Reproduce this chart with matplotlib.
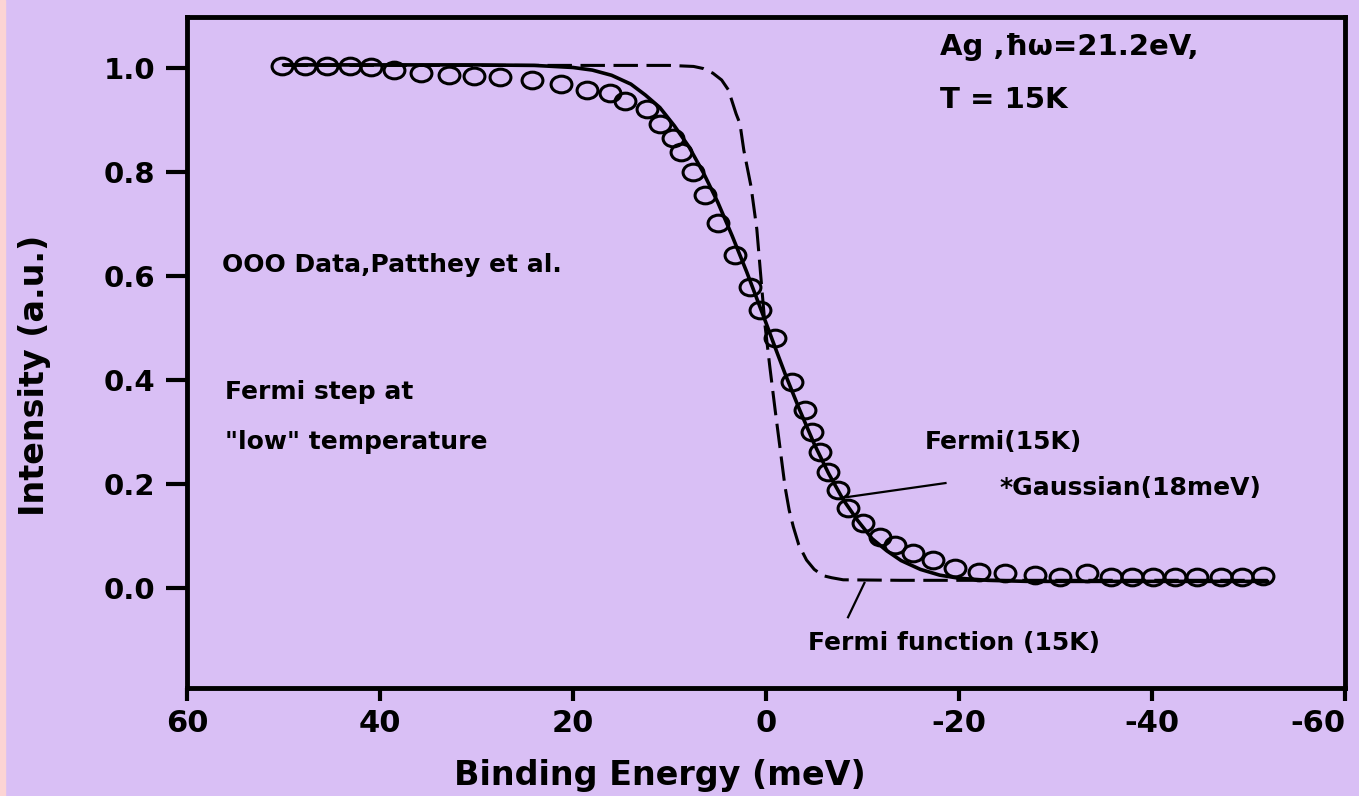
import matplotlib
matplotlib.use("Agg")
import matplotlib.pyplot as plt
from matplotlib.path import Path
from matplotlib.transforms import Affine2D
from matplotlib.patches import Rectangle

plt.rcParams["font.family"] = ["DejaVu Sans"]
plt.rcParams["font.weight"] = "bold"
plt.rcParams["axes.unicode_minus"] = False

bg = "#d9bff5"
pink = "#fcd4d4"

# measured points (binding energy in meV, intensity)
data_e = [50.2, 47.8, 45.5, 43.1, 40.9, 38.6, 35.7, 32.9, 30.3, 27.6, 24.3, 21.2,
          18.6, 16.2, 14.6, 12.3, 11.0, 9.6, 8.8, 7.6, 6.3, 5.0, 3.2, 1.7, 0.6,
          -0.9, -2.7, -4.0, -4.8, -5.6, -6.4, -7.5, -8.5, -10.1, -11.8, -13.4,
          -15.2, -17.3, -19.6, -22.1, -24.8, -27.9, -30.5, -33.3, -35.7, -37.9,
          -40.1, -42.4, -44.7, -47.1, -49.3, -51.5]
data_i = [1.004, 1.004, 1.004, 1.004, 1.002, 0.996, 0.990, 0.987, 0.985, 0.983,
          0.977, 0.969, 0.958, 0.952, 0.937, 0.921, 0.892, 0.865, 0.838, 0.800,
          0.756, 0.702, 0.640, 0.579, 0.535, 0.481, 0.396, 0.342, 0.300, 0.262,
          0.223, 0.188, 0.154, 0.125, 0.098, 0.083, 0.067, 0.054, 0.038, 0.031,
          0.029, 0.025, 0.021, 0.029, 0.021, 0.021, 0.021, 0.021, 0.021, 0.021,
          0.021, 0.023]

# Fermi(15K) * Gaussian(18meV)
conv_e = [50, 30, 24, 20, 18, 16, 14, 12.5, 11, 9.5, 8, 6.5, 5, 3.5, 2, 1, 0,
          -1, -2, -3.5, -5, -6.5, -8, -9.5, -11, -12.5, -14, -16, -18, -20,
          -23, -27, -52]
conv_i = [1.006, 1.006, 1.005, 1.001, 0.996, 0.986, 0.969, 0.948, 0.924, 0.889,
          0.849, 0.799, 0.742, 0.677, 0.608, 0.559, 0.510, 0.460, 0.411, 0.342,
          0.277, 0.220, 0.170, 0.130, 0.095, 0.072, 0.053, 0.036, 0.025, 0.019,
          0.015, 0.013, 0.013]

# Fermi function (15K), dashed curve
fermi_e = [50, 10, 7.5, 6.5, 5.5, 4.6, 3.9, 3.1, 2.7, 2.3, 1.55, 0.95, 0.45, 0.1,
           -0.4, -0.93, -1.45, -1.97, -2.4, -2.83, -3.4, -4.2, -5.0, -5.9, -6.8,
           -8, -14, -52]
fermi_i = [1.005, 1.005, 1.003, 0.999, 0.990, 0.977, 0.958, 0.912, 0.893, 0.842,
           0.772, 0.690, 0.580, 0.505, 0.425, 0.345, 0.270, 0.195, 0.150, 0.118,
           0.083, 0.054, 0.036, 0.024, 0.020, 0.016, 0.015, 0.015]

xticks = [60, 40, 20, 0, -20, -40, -60]
yticks = [0.0, 0.2, 0.4, 0.6, 0.8, 1.0]

fig = plt.figure(figsize=(13.59, 7.96), dpi=100, facecolor=bg)
fig.patches.append(Rectangle((0, 0), 5 / 1359, 1, transform=fig.transFigure,
                             color=pink, zorder=-1))
ax = fig.add_axes([0.1376, 0.1357, 0.8521, 0.8429], facecolor=bg)

ax.plot(conv_e, conv_i, color="k", lw=2.6, solid_capstyle="round", zorder=2)
ax.plot(fermi_e, fermi_i, color="k", lw=2.2, dashes=(8, 2.8), zorder=2)

# circles in the scan come out a bit wider than tall
oval = Path.unit_circle().transformed(Affine2D().scale(1.25, 1.0))
ax.plot(data_e, data_i, ls="none", marker=oval, ms=15, mfc="none",
        mec="k", mew=2.2, zorder=3)

ax.set_xlim(60, -60)
ax.set_ylim(-0.192, 1.098)
ax.set_xticks(xticks)
ax.set_xticklabels([str(t) for t in xticks])
ax.set_yticks(yticks)
ax.set_yticklabels(["%.1f" % t for t in yticks])
ax.tick_params(axis="y", direction="out", length=15, width=3, pad=8, labelsize=21)
ax.tick_params(axis="x", direction="out", length=9, width=3, pad=6, labelsize=22)
ax.get_xticklabels()[-1].set_ha("right")
for s in ax.spines.values():
    s.set_linewidth(3.5)

fs = 18
ax.text(-18.0, 1.040, "Ag ,ħω=21.2eV,", fontsize=21, va="center")
ax.text(-18.0, 0.938, "T = 15K", fontsize=21, va="center")
ax.text(56.4, 0.621, "OOO Data,Patthey et al.", fontsize=fs, va="center")
ax.text(56.1, 0.377, "Fermi step at", fontsize=fs, va="center")
ax.text(56.1, 0.281, '"low" temperature', fontsize=fs, va="center")
ax.text(-16.5, 0.281, "Fermi(15K)", fontsize=fs, va="center")
ax.text(-24.2, 0.192, "*Gaussian(18meV)", fontsize=fs, va="center")
ax.text(-4.35, -0.106, "Fermi function (15K)", fontsize=fs, va="center")

# leader lines to the curves
ax.plot([-8.4, -18.6], [0.175, 0.202], color="k", lw=1.6)
ax.plot([-10.2, -8.5], [0.010, -0.056], color="k", lw=1.6)

fig.text(35 / 1359, 1 - 375 / 796, "Intensity (a.u.)", rotation=90,
         fontsize=24, ha="center", va="center")
fig.text(660 / 1359, 1 - 775 / 796, "Binding Energy (meV)",
         fontsize=24, ha="center", va="center")

fig.savefig("out.png", dpi=100, facecolor=bg)
